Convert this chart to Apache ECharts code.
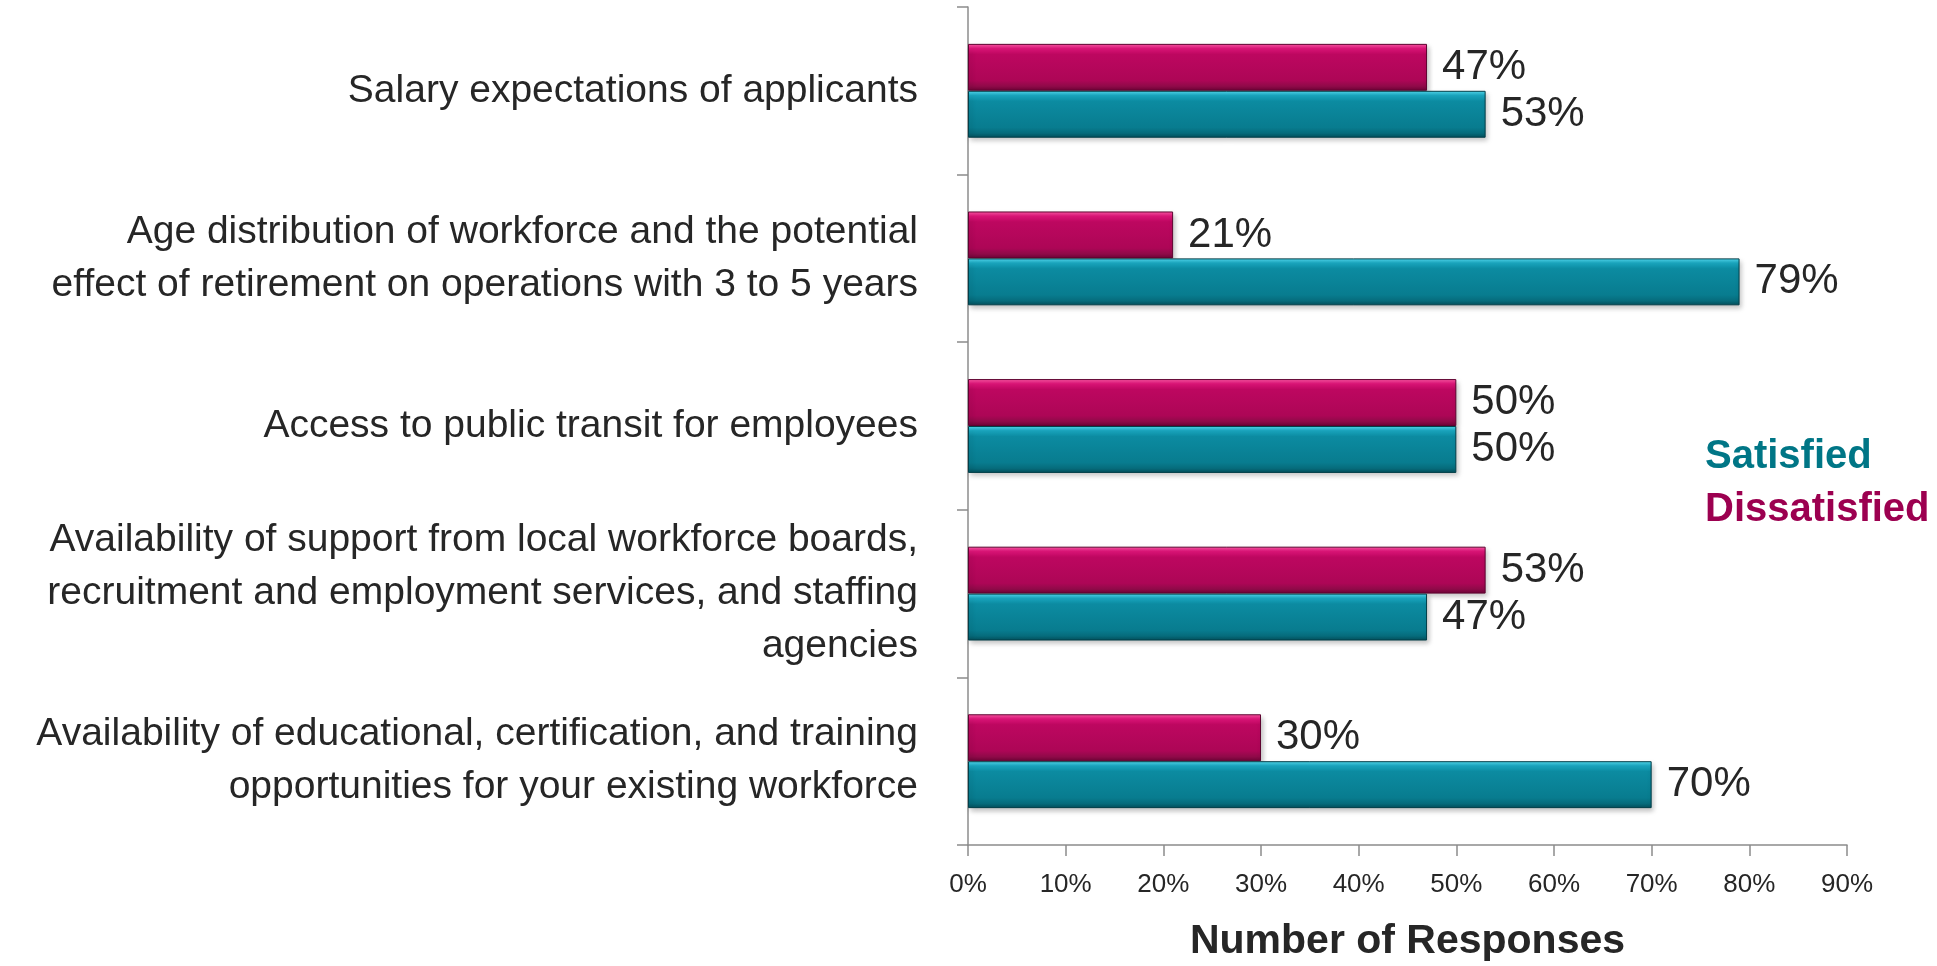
<!DOCTYPE html>
<html>
<head>
<meta charset="utf-8">
<title>Number of Responses</title>
<script src="https://cdn.jsdelivr.net/npm/echarts@6/dist/echarts.min.js"></script>
<style>
  html, body { margin: 0; padding: 0; background: #fff; }
  #chart { width: 1937px; height: 966px; }
</style>
</head>
<body>
<div id="chart"></div>
<script>
  const categories = [
    "Salary expectations of applicants",
    "Age distribution of workforce and the potential\neffect of retirement on operations with 3 to 5 years",
    "Access to public transit for employees",
    "Availability of support from local workforce boards,\nrecruitment and employment services, and staffing\nagencies",
    "Availability of educational, certification, and training\nopportunities for your existing workforce"
  ];
  const dissatisfied = [47, 21, 50, 53, 30];
  const satisfied = [53, 79, 50, 47, 70];
  const xTicks = [0, 10, 20, 30, 40, 50, 60, 70, 80, 90];

  (() => {
    "use strict";

    const FONT = '"Liberation Sans", Arial, sans-serif';
    const chart = echarts.init(document.getElementById("chart"), null, { renderer: "canvas" });

    const gradient = (stops) => new echarts.graphic.LinearGradient(0, 0, 0, 1,
      stops.map(([offset, color]) => ({ offset, color })));

    const redFill = gradient([
      [0, "#ff5aa8"], [0.1, "#e0157a"], [0.22, "#bd0760"],
      [0.78, "#ad0656"], [0.9, "#900a49"], [1, "#6d0537"]
    ]);
    const tealFill = gradient([
      [0, "#55dcf2"], [0.1, "#1aa9c2"], [0.22, "#0c8ba1"],
      [0.78, "#087c8f"], [0.9, "#066c7c"], [1, "#044f5b"]
    ]);

    const barLabel = {
      show: true,
      position: "right",
      distance: 15,
      color: "#262626",
      fontFamily: FONT,
      fontSize: 42,
      formatter: (p) => p.value + "%"
    };

    chart.setOption({
      animation: false,
      grid: { left: 968, right: 90, top: 7, bottom: 121, containLabel: false, outerBoundsMode: "none" },
      xAxis: {
        type: "value",
        min: xTicks[0],
        max: xTicks[xTicks.length - 1],
        interval: 10,
        name: "Number of Responses",
        nameLocation: "middle",
        nameGap: 76,
        nameTextStyle: { fontFamily: FONT, fontWeight: "bold", fontSize: 41, color: "#262626" },
        axisLine: { show: true, lineStyle: { color: "#8c8c8c", width: 1.5 } },
        axisTick: { show: true, length: 11, lineStyle: { color: "#8c8c8c", width: 1.5 } },
        axisLabel: { margin: 27, fontFamily: FONT, fontSize: 26, color: "#262626", formatter: "{value}%" },
        splitLine: { show: false }
      },
      yAxis: {
        type: "category",
        data: categories,
        inverse: true,
        axisLine: { show: true, lineStyle: { color: "#8c8c8c", width: 1.5 } },
        axisTick: { show: true, length: 11, lineStyle: { color: "#8c8c8c", width: 1.5 } },
        axisLabel: {
          margin: 50,
          fontFamily: FONT,
          fontSize: 39,
          lineHeight: 53,
          color: "#262626",
          align: "right"
        }
      },
      series: [
        {
          name: "Dissatisfied",
          type: "bar",
          data: dissatisfied,
          barGap: "0%",
          barCategoryGap: "44%",
          itemStyle: {
            color: redFill,
            borderColor: "#5e0430",
            borderWidth: 1,
            shadowBlur: 5,
            shadowOffsetX: 2,
            shadowOffsetY: 3,
            shadowColor: "rgba(0,0,0,0.25)"
          },
          label: barLabel
        },
        {
          name: "Satisfied",
          type: "bar",
          data: satisfied,
          itemStyle: {
            color: tealFill,
            borderColor: "#033f49",
            borderWidth: 1,
            shadowBlur: 5,
            shadowOffsetX: 2,
            shadowOffsetY: 3,
            shadowColor: "rgba(0,0,0,0.25)"
          },
          label: barLabel
        }
      ],
      graphic: [
        {
          type: "text",
          left: 1705,
          top: 437,
          style: {
            text: "Satisfied",
            fill: "#007686",
            font: "bold 40px " + FONT
          }
        },
        {
          type: "text",
          left: 1705,
          top: 490,
          style: {
            text: "Dissatisfied",
            fill: "#9c0050",
            font: "bold 40px " + FONT
          }
        }
      ]
    });

    window.addEventListener("resize", () => chart.resize(), { passive: true });
  })();
</script>
</body>
</html>
